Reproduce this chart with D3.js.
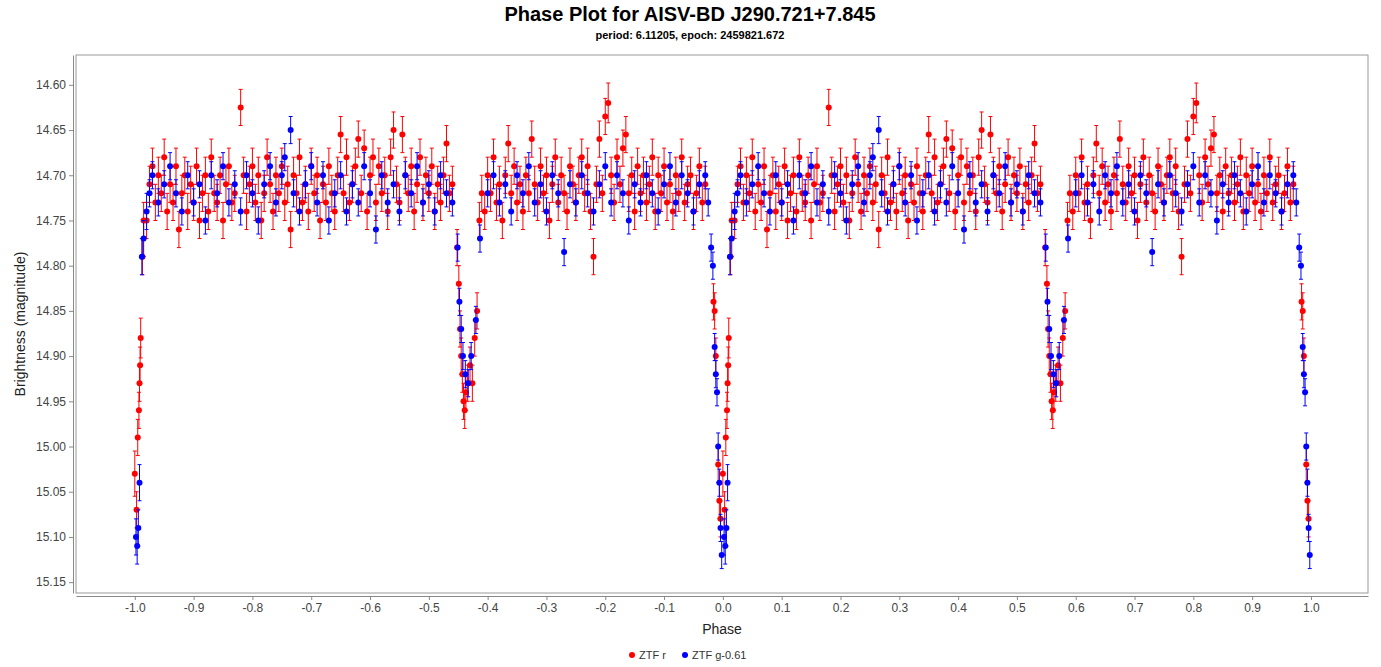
<!DOCTYPE html>
<html><head><meta charset="utf-8">
<script src="https://cdn.jsdelivr.net/npm/d3@7"></script>
<style>body{margin:0;background:#fff;font-family:"Liberation Sans",Arial,sans-serif}</style>
</head><body><svg id="c" width="1381" height="667" font-family="Liberation Sans, Arial, sans-serif"></svg>
<script>
const title = "Phase Plot for AISV-BD J290.721+7.845";
const subtitle = "period: 6.11205, epoch: 2459821.672";
const xTicks = d3.range(-10, 11).map(v => v / 10);
const yTicks = [14.60,14.65,14.70,14.75,14.80,14.85,14.90,14.95,15.00,15.05,15.10,15.15];
// [phase (0..1), magnitude, error]
const ztfR = [
[0.000,15.03,0.025],[0.003,15.07,0.02],[0.005,14.99,0.02],[0.007,14.96,0.02],[0.008,14.93,0.02],[0.009,14.91,0.02],[0.01,14.88,0.022],[0.013,14.79,0.02],[0.015,14.75,0.02],
[0.02,14.75,0.02],[0.025,14.71,0.02],[0.03,14.69,0.02],[0.035,14.73,0.02],[0.04,14.70,0.02],[0.045,14.72,0.02],[0.05,14.68,0.02],[0.055,14.74,0.02],[0.06,14.71,0.02],[0.065,14.73,0.02],[0.07,14.69,0.02],[0.075,14.76,0.02],[0.08,14.72,0.02],[0.085,14.70,0.02],[0.09,14.74,0.02],[0.095,14.71,0.02],[0.10,14.73,0.02],[0.105,14.69,0.02],[0.11,14.75,0.02],[0.115,14.72,0.02],[0.12,14.70,0.02],[0.125,14.74,0.02],[0.13,14.68,0.02],[0.135,14.72,0.02],[0.14,14.73,0.02],[0.145,14.70,0.02],[0.15,14.75,0.02],[0.155,14.71,0.02],[0.16,14.69,0.02],[0.165,14.73,0.02],[0.17,14.72,0.02],[0.18,14.625,0.02],[0.185,14.70,0.02],[0.19,14.74,0.02],[0.195,14.71,0.02],[0.20,14.69,0.02],[0.205,14.73,0.02],[0.21,14.70,0.02],[0.215,14.75,0.02],[0.22,14.72,0.02],[0.225,14.68,0.02],[0.23,14.71,0.02],[0.235,14.74,0.02],[0.24,14.70,0.02],[0.245,14.72,0.02],[0.25,14.69,0.02],[0.255,14.73,0.02],[0.26,14.71,0.02],[0.265,14.76,0.02],[0.27,14.70,0.02],[0.275,14.72,0.02],[0.28,14.68,0.02],[0.285,14.73,0.02],[0.29,14.71,0.02],[0.295,14.74,0.02],[0.30,14.69,0.02],[0.305,14.72,0.02],[0.31,14.70,0.02],[0.315,14.75,0.02],[0.32,14.71,0.02],[0.325,14.73,0.02],[0.33,14.69,0.02],[0.335,14.72,0.02],[0.34,14.74,0.02],[0.345,14.70,0.02],[0.35,14.655,0.02],[0.355,14.72,0.02],[0.36,14.68,0.02],[0.365,14.73,0.02],[0.37,14.71,0.02],[0.375,14.69,0.02],[0.38,14.66,0.02],[0.385,14.72,0.02],[0.39,14.67,0.02],[0.395,14.74,0.02],[0.40,14.70,0.02],[0.405,14.68,0.02],[0.41,14.73,0.02],[0.415,14.69,0.02],[0.42,14.72,0.02],[0.425,14.70,0.02],[0.43,14.74,0.02],[0.435,14.68,0.02],[0.44,14.65,0.02],[0.445,14.71,0.02],[0.45,14.73,0.02],[0.455,14.655,0.02],[0.46,14.70,0.02],[0.465,14.72,0.02],[0.47,14.69,0.02],[0.475,14.74,0.02],[0.48,14.71,0.02],[0.485,14.68,0.02],[0.49,14.73,0.02],[0.495,14.70,0.02],[0.50,14.72,0.02],[0.505,14.69,0.02],[0.51,14.74,0.02],[0.515,14.71,0.02],[0.52,14.73,0.02],[0.525,14.70,0.02],[0.53,14.665,0.02],[0.535,14.72,0.02],[0.54,14.71,0.02],
[0.548,14.78,0.02],[0.551,14.82,0.02],[0.553,14.87,0.02],[0.555,14.90,0.02],[0.557,14.92,0.02],[0.559,14.95,0.02],[0.561,14.96,0.02],[0.563,14.94,0.02],[0.566,14.93,0.02],[0.57,14.91,0.02],[0.574,14.93,0.02],[0.578,14.88,0.02],[0.582,14.85,0.02],[0.586,14.75,0.02],[0.59,14.72,0.02],
[0.595,14.74,0.02],[0.60,14.70,0.02],[0.605,14.72,0.02],[0.61,14.68,0.02],[0.615,14.73,0.02],[0.62,14.71,0.02],[0.625,14.75,0.02],[0.63,14.70,0.02],[0.635,14.665,0.02],[0.64,14.72,0.02],[0.645,14.69,0.02],[0.65,14.73,0.02],[0.655,14.71,0.02],[0.66,14.74,0.02],[0.665,14.70,0.02],[0.67,14.72,0.02],[0.675,14.66,0.02],[0.68,14.71,0.02],[0.685,14.73,0.02],[0.69,14.69,0.02],[0.695,14.72,0.02],[0.70,14.70,0.02],[0.705,14.75,0.02],[0.71,14.71,0.02],[0.715,14.68,0.02],[0.72,14.73,0.02],[0.725,14.70,0.02],[0.73,14.72,0.02],[0.735,14.74,0.02],[0.74,14.69,0.02],[0.745,14.71,0.02],[0.75,14.73,0.02],[0.755,14.70,0.02],[0.76,14.68,0.02],[0.765,14.72,0.02],[0.77,14.69,0.02],[0.775,14.74,0.02],[0.78,14.79,0.02],[0.785,14.71,0.02],[0.79,14.66,0.02],[0.795,14.72,0.02],[0.80,14.635,0.02],[0.805,14.62,0.022],[0.81,14.70,0.02],[0.815,14.73,0.02],[0.82,14.68,0.02],[0.825,14.71,0.02],[0.83,14.67,0.02],[0.835,14.655,0.02],[0.84,14.72,0.02],[0.845,14.70,0.02],[0.85,14.74,0.02],[0.855,14.69,0.02],[0.86,14.72,0.02],[0.865,14.70,0.02],[0.87,14.73,0.02],[0.875,14.71,0.02],[0.88,14.68,0.02],[0.885,14.74,0.02],[0.89,14.70,0.02],[0.895,14.72,0.02],[0.90,14.69,0.02],[0.905,14.73,0.02],[0.91,14.71,0.02],[0.915,14.74,0.02],[0.92,14.70,0.02],[0.925,14.72,0.02],[0.93,14.68,0.02],[0.935,14.73,0.02],[0.94,14.71,0.02],[0.945,14.70,0.02],[0.95,14.74,0.02],[0.955,14.72,0.02],[0.96,14.69,0.02],[0.965,14.73,0.02],[0.97,14.71,0.02],
[0.984,14.84,0.02],[0.986,14.85,0.02],[0.988,14.90,0.02],[0.992,15.02,0.02],[0.994,15.06,0.02],[0.996,15.08,0.02]
];
const ztfG = [
[0.002,15.10,0.02],[0.004,15.11,0.02],[0.006,15.09,0.02],[0.008,15.04,0.02],[0.012,14.79,0.02],[0.015,14.77,0.02],[0.02,14.74,0.02],
[0.025,14.72,0.015],[0.03,14.70,0.015],[0.04,14.73,0.015],[0.05,14.71,0.015],[0.06,14.69,0.015],[0.07,14.72,0.015],[0.08,14.74,0.015],[0.09,14.70,0.015],[0.10,14.73,0.015],[0.11,14.71,0.015],[0.12,14.75,0.015],[0.13,14.70,0.015],[0.14,14.72,0.015],[0.15,14.69,0.015],[0.16,14.73,0.015],[0.17,14.71,0.015],[0.18,14.74,0.015],[0.19,14.70,0.015],[0.20,14.72,0.015],[0.21,14.75,0.015],[0.22,14.71,0.015],[0.23,14.69,0.015],[0.24,14.73,0.015],[0.25,14.70,0.015],[0.255,14.68,0.015],[0.265,14.65,0.015],[0.27,14.72,0.015],[0.28,14.74,0.015],[0.29,14.71,0.015],[0.30,14.69,0.015],[0.31,14.73,0.015],[0.32,14.70,0.015],[0.33,14.75,0.015],[0.34,14.72,0.015],[0.35,14.70,0.015],[0.36,14.74,0.015],[0.37,14.71,0.015],[0.38,14.73,0.015],[0.39,14.69,0.015],[0.40,14.72,0.015],[0.41,14.76,0.015],[0.42,14.70,0.015],[0.43,14.73,0.015],[0.44,14.71,0.015],[0.45,14.74,0.015],[0.46,14.70,0.015],[0.47,14.72,0.015],[0.48,14.69,0.015],[0.49,14.73,0.015],[0.50,14.71,0.015],[0.51,14.74,0.015],[0.52,14.70,0.015],[0.53,14.72,0.015],[0.54,14.73,0.015],
[0.549,14.78,0.015],[0.552,14.84,0.015],[0.555,14.87,0.015],[0.558,14.90,0.015],[0.562,14.92,0.015],[0.567,14.93,0.015],[0.572,14.90,0.015],[0.58,14.86,0.015],[0.587,14.77,0.015],
[0.60,14.72,0.015],[0.61,14.70,0.015],[0.62,14.73,0.015],[0.63,14.71,0.015],[0.64,14.74,0.015],[0.65,14.70,0.015],[0.66,14.72,0.015],[0.67,14.69,0.015],[0.68,14.73,0.015],[0.69,14.71,0.015],[0.70,14.74,0.015],[0.71,14.70,0.015],[0.72,14.72,0.015],[0.73,14.785,0.015],[0.74,14.71,0.015],[0.75,14.73,0.015],[0.76,14.70,0.015],[0.77,14.72,0.015],[0.78,14.74,0.015],[0.79,14.71,0.015],[0.80,14.69,0.015],[0.81,14.73,0.015],[0.82,14.70,0.015],[0.83,14.72,0.015],[0.84,14.75,0.015],[0.85,14.71,0.015],[0.86,14.73,0.015],[0.87,14.70,0.015],[0.88,14.72,0.015],[0.89,14.74,0.015],[0.90,14.71,0.015],[0.91,14.69,0.015],[0.92,14.73,0.015],[0.93,14.70,0.015],[0.94,14.72,0.015],[0.95,14.74,0.015],[0.96,14.71,0.015],[0.97,14.70,0.015],[0.975,14.73,0.015],
[0.98,14.78,0.015],[0.983,14.80,0.015],[0.986,14.89,0.015],[0.988,14.92,0.015],[0.99,14.94,0.015],[0.992,15.00,0.015],[0.994,15.04,0.015],[0.996,15.09,0.015],[0.998,15.12,0.015]
];
const series = [{name:"ZTF r", color:"#ff0000", data:ztfR},{name:"ZTF g-0.61", color:"#0000ff", data:ztfG}];

const svg = d3.select("#c");
const L=76,R=1368,T=55,B=593;
const x = d3.scaleLinear().domain([-1.1,1.097]).range([L,R]);
const y = d3.scaleLinear().domain([14.567,15.162]).range([T,B]);
svg.append("text").attr("x",690).attr("y",21).attr("text-anchor","middle").attr("font-size",20).attr("font-weight","bold").text(title);
svg.append("text").attr("x",690).attr("y",39).attr("text-anchor","middle").attr("font-size",11).attr("font-weight","bold").text(subtitle);
svg.append("rect").attr("x",L).attr("y",T).attr("width",R-L).attr("height",B-T).attr("fill","#fff").attr("stroke","#999");
const xa = svg.append("g").attr("transform",`translate(0,${B+3})`).call(d3.axisBottom(x).tickValues(xTicks).tickFormat(d3.format(".1f")).tickSize(4).tickSizeOuter(0));
const ya = svg.append("g").attr("transform",`translate(${L-3},0)`).call(d3.axisLeft(y).tickValues(yTicks).tickFormat(d3.format(".2f")).tickSize(4).tickSizeOuter(0));
[xa,ya].forEach(a=>{a.selectAll("text").attr("font-size",12).attr("fill","#444").attr("font-family","Liberation Sans, Arial, sans-serif");a.selectAll("line,path").attr("stroke","#888");});
xa.selectAll("text").text(d=>d3.format(".1f")(d).replace("−","-"));
svg.append("text").attr("x",722).attr("y",634).attr("text-anchor","middle").attr("font-size",14).attr("fill","#222").text("Phase");
svg.append("text").attr("transform","translate(25,324) rotate(-90)").attr("text-anchor","middle").attr("font-size",14).attr("fill","#222").text("Brightness (magnitude)");
const g = svg.append("g");
series.forEach(s=>{
  const pts = [];
  s.data.forEach(d=>{pts.push([d[0],d[1],d[2]]); pts.push([d[0]-1,d[1],d[2]]);});
  const gg = g.append("g");
  pts.forEach(p=>{
    const cx=x(p[0]);
    gg.append("line").attr("x1",cx).attr("x2",cx).attr("y1",y(p[1]-p[2])).attr("y2",y(p[1]+p[2])).attr("stroke",s.color);
    [p[1]-p[2],p[1]+p[2]].forEach(v=>gg.append("line").attr("x1",cx-2).attr("x2",cx+2).attr("y1",y(v)).attr("y2",y(v)).attr("stroke",s.color));
    gg.append("circle").attr("cx",cx).attr("cy",y(p[1])).attr("r",3).attr("fill",s.color);
  });
});
const lg = svg.append("g");
[[632,"ZTF r","#ff0000"],[685,"ZTF g-0.61","#0000ff"]].forEach(([lx,t,c])=>{
  lg.append("circle").attr("cx",lx).attr("cy",655).attr("r",3).attr("fill",c);
  lg.append("text").attr("x",lx+7).attr("y",659).attr("font-size",11).attr("fill","#333").text(t);
});
</script></body></html>
